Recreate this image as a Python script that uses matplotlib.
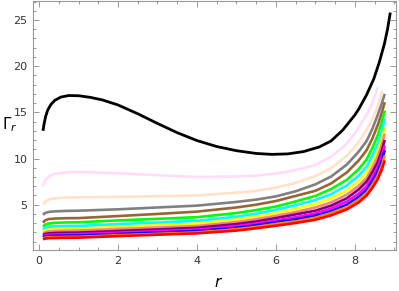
import matplotlib
matplotlib.use('Agg')
from matplotlib import pyplot as plt
from matplotlib.ticker import MultipleLocator

# black curve
x_black = [0.1, 0.13, 0.17, 0.22, 0.3, 0.4, 0.55, 0.75, 1.0, 1.3, 1.6, 2.0, 2.5, 3.0,
           3.5, 4.0, 4.5, 5.0, 5.5, 5.9, 6.3, 6.7, 7.1, 7.4, 7.7, 7.85, 8.0, 8.1,
           8.3, 8.48, 8.62, 8.75, 8.83, 8.9]
y_black = [13.0, 13.8, 14.6, 15.25, 15.85, 16.3, 16.65, 16.82, 16.8, 16.62, 16.35, 15.8,
           14.85, 13.8, 12.8, 11.95, 11.3, 10.85, 10.55, 10.45, 10.5, 10.75, 11.25, 11.9,
           13.1, 13.9, 14.7, 15.35, 16.9, 18.6, 20.4, 22.4, 24.0, 25.8]

# r samples for the coloured family
x_c = [0.1, 0.15, 0.25, 0.4, 0.7, 1, 2, 3, 4, 5, 5.5, 6, 6.5, 7.0, 7.4, 7.8, 8.1,
       8.3, 8.45, 8.58, 8.68, 8.76]
x_peach = [0.1, 0.15, 0.25, 0.4, 0.7, 1, 2, 3, 4, 5, 5.5, 6, 6.5, 7.0, 7.4, 7.8, 8.05,
           8.25, 8.4, 8.52, 8.62, 8.7]
x_pink = [0.1, 0.15, 0.25, 0.4, 0.7, 1, 2, 3, 4, 5, 5.5, 6, 6.5, 7.0, 7.4, 7.75, 8.0,
          8.18, 8.32, 8.43, 8.51, 8.58]

y_pink = [7.0, 7.6, 8.05, 8.35, 8.5, 8.55, 8.4, 8.2, 8.0, 8.05, 8.15, 8.37, 8.75, 9.3,
          10.2, 11.4, 12.7, 13.9, 14.9, 15.9, 16.8, 17.7]
y_peach = [4.96, 5.3, 5.55, 5.7, 5.78, 5.8, 5.85, 5.92, 6.0, 6.3, 6.5, 6.85, 7.35, 8.1,
           8.95, 10.3, 11.5, 12.75, 13.9, 15.0, 16.2, 17.35]
y_gray = [3.9, 4.1, 4.22, 4.28, 4.33, 4.35, 4.5, 4.7, 4.9, 5.3, 5.55, 5.9, 6.45, 7.2,
          8.05, 9.35, 10.75, 11.9, 13.25, 14.7, 15.9, 17.0]
y_brown = [3.05, 3.3, 3.45, 3.5, 3.54, 3.55, 3.77, 4.0, 4.25, 4.7, 5.0, 5.4, 5.95, 6.5,
           7.3, 8.5, 9.8, 10.9, 12.2, 13.6, 14.9, 16.1]
y_green = [2.6, 2.83, 2.97, 3.04, 3.08, 3.1, 3.3, 3.47, 3.65, 4.1, 4.42, 4.8, 5.35, 5.95,
           6.7, 7.7, 8.85, 9.9, 11.2, 12.5, 13.9, 15.2]
y_cyan = [2.3, 2.5, 2.6, 2.66, 2.69, 2.7, 2.9, 3.07, 3.25, 3.7, 4.03, 4.45, 4.95, 5.5,
          6.15, 7.1, 8.15, 9.1, 10.35, 11.6, 12.95, 14.3]
y_yellow = [2.05, 2.22, 2.32, 2.36, 2.39, 2.4, 2.6, 2.77, 2.95, 3.4, 3.7, 4.1, 4.55,
            5.05, 5.7, 6.55, 7.55, 8.5, 9.65, 10.85, 12.15, 13.4]
y_salmon = [1.85, 2.0, 2.1, 2.15, 2.18, 2.2, 2.37, 2.53, 2.7, 3.12, 3.42, 3.8, 4.2, 4.7,
            5.25, 6.1, 7.05, 7.9, 9.05, 10.2, 11.45, 12.7]
y_purple = [1.7, 1.83, 1.9, 1.94, 1.97, 1.98, 2.15, 2.32, 2.5, 2.9, 3.18, 3.55, 3.95, 4.35,
            4.9, 5.7, 6.65, 7.5, 8.55, 9.6, 10.8, 12.0]
y_magenta = [1.55, 1.67, 1.74, 1.77, 1.8, 1.81, 1.97, 2.13, 2.3, 2.68, 2.95, 3.3, 3.65,
             4.05, 4.6, 5.35, 6.2, 7.0, 8.0, 9.05, 10.2, 11.4]
y_blue = [1.45, 1.55, 1.6, 1.63, 1.65, 1.66, 1.82, 1.98, 2.15, 2.5, 2.78, 3.1, 3.42,
          3.8, 4.3, 5.0, 5.85, 6.6, 7.6, 8.6, 9.7, 10.9]
y_orange = [1.35, 1.43, 1.48, 1.5, 1.52, 1.53, 1.7, 1.85, 2.0, 2.35, 2.6, 2.92, 3.2, 3.6,
            4.1, 4.75, 5.55, 6.3, 7.2, 8.15, 9.2, 10.35]
y_red = [1.25, 1.33, 1.38, 1.4, 1.42, 1.43, 1.6, 1.75, 1.9, 2.2, 2.45, 2.72, 3.02, 3.37,
         3.85, 4.5, 5.25, 6.0, 6.85, 7.75, 8.75, 9.8]

x_ticks = [0, 2, 4, 6, 8]
y_ticks = [5, 10, 15, 20, 25]

fig = plt.figure(figsize=(3.99, 2.91), dpi=100)
ax = fig.add_axes([0.083, 0.141, 0.910, 0.857])

lw = 1.9
curves = [
    (x_pink, y_pink, '#FFDDF8'),
    (x_peach, y_peach, '#FFE2C8'),
    (x_c, y_gray, '#808080'),
    (x_c, y_brown, '#996633'),
    (x_c, y_green, '#00FF00'),
    (x_c, y_cyan, '#00FFFF'),
    (x_c, y_yellow, '#FFFF00'),
    (x_c, y_salmon, '#FF8080'),
    (x_c, y_purple, '#800080'),
    (x_c, y_magenta, '#FF00FF'),
    (x_c, y_blue, '#0000FF'),
    (x_c, y_orange, '#FF8000'),
    (x_c, y_red, '#FF0000'),
]
for xs, ys, c in curves:
    ax.plot(xs, ys, color=c, lw=lw, solid_capstyle='butt', solid_joinstyle='round')
ax.plot(x_black, y_black, color='black', lw=2.0, solid_capstyle='butt',
        solid_joinstyle='round')

ax.set_xlim(-0.15, 9.05)
ax.set_ylim(0.1, 27.1)
ax.set_xticks(x_ticks)
ax.set_yticks(y_ticks)
ax.xaxis.set_minor_locator(MultipleLocator(0.5))
ax.yaxis.set_minor_locator(MultipleLocator(1))
ax.tick_params(which='both', direction='in', color='#999999', top=True, right=True,
               labelsize=8, labelcolor='#333333', width=0.7)
ax.tick_params(which='major', length=4, pad=4)
ax.tick_params(which='minor', length=2.5)
for s in ax.spines.values():
    s.set_color('#999999')
    s.set_linewidth(0.8)

fig.text(0.547, 0.005, '$r$', fontsize=11, ha='center', va='bottom')
fig.text(0.005, 0.57, r'$\mathit{\Gamma}_r$', fontsize=11, ha='left', va='center')

fig.savefig('out.png', dpi=100)
